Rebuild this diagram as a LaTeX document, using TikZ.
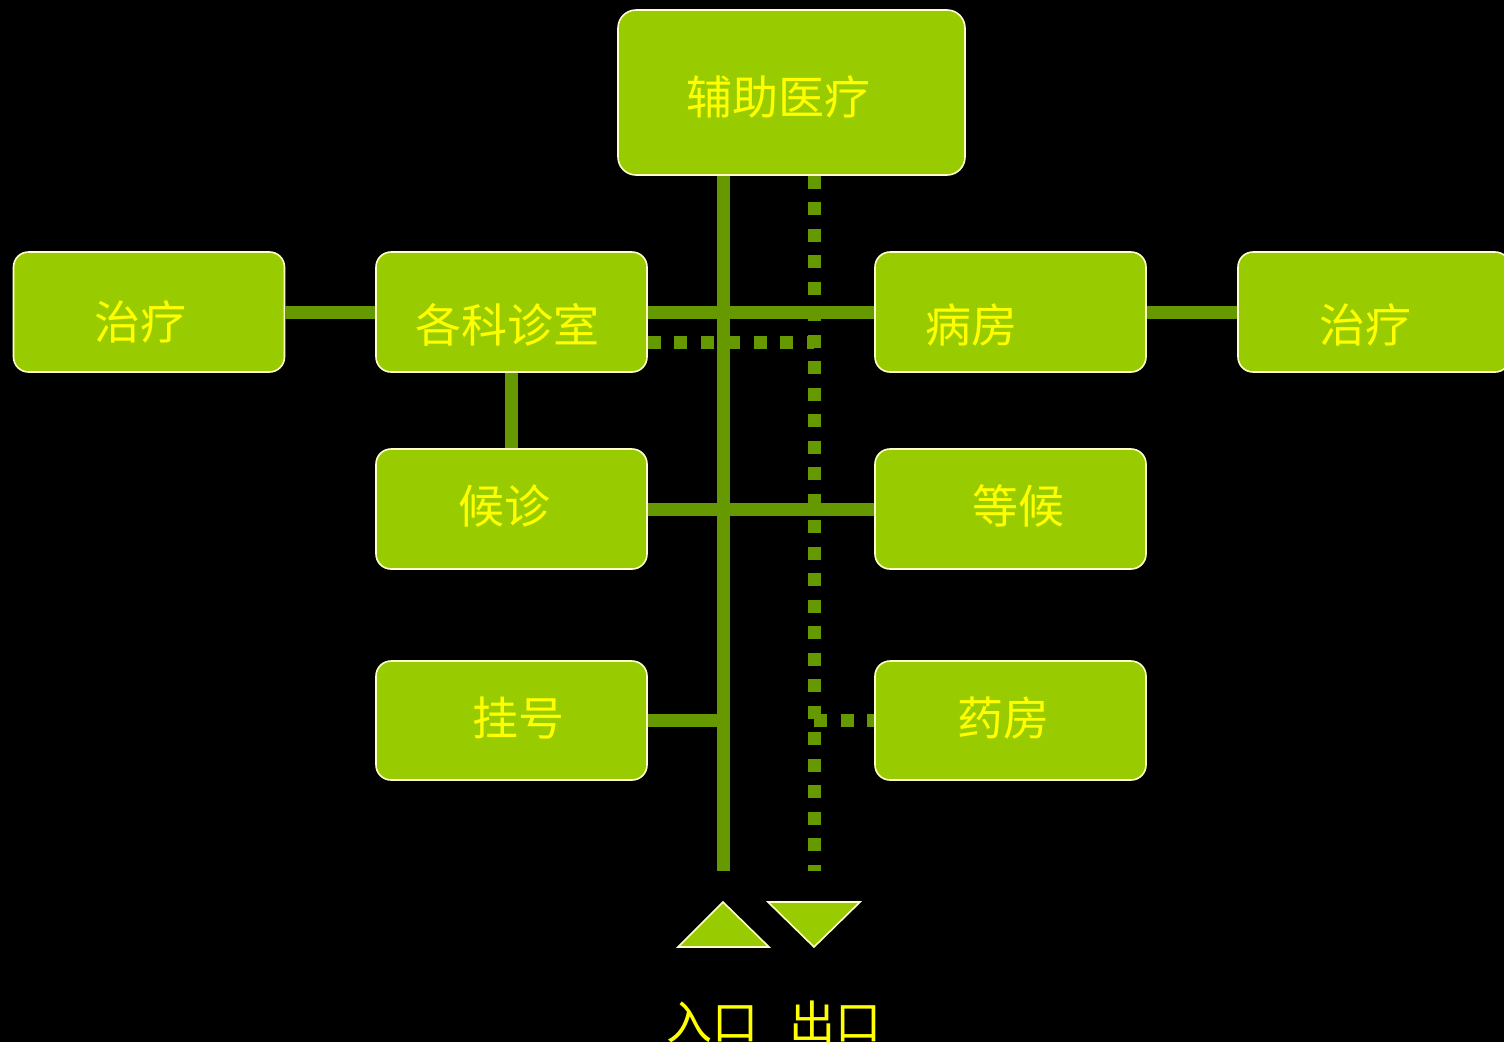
\documentclass[tikz,border=0pt]{standalone}
\usepackage{fontspec}
\newfontfamily\cjk{Noto Sans CJK SC}
\definecolor{boxfill}{HTML}{99CC00}
\definecolor{boxline}{HTML}{FFFFCC}
\definecolor{conn}{HTML}{669900}
\definecolor{txt}{HTML}{FFFF00}
\begin{document}
\begin{tikzpicture}[x=1pt,y=-1pt,
  box/.style={draw=boxline, line width=1.6pt, fill=boxfill, rounded corners=15pt, inner sep=0pt,
    minimum width=271pt, minimum height=120pt},
  lbl/.style={text=txt, font=\cjk\fontsize{46}{50}\selectfont, inner sep=0pt},
  solidconn/.style={draw=conn, line width=13pt},
  dotconn/.style={draw=conn, line width=13pt, dash pattern=on 13pt off 13.5pt},
  tri/.style={draw=boxline, line width=1.6pt, fill=boxfill, line join=miter}]
\fill[black] (0,0) rectangle (1504,1042);
\useasboundingbox (0,0) rectangle (1504,1042);
% boxes
\node[box, minimum width=347pt, minimum height=165pt, rounded corners=18pt] (fz) at (791.5,92.5) {};
\node[box] (zl) at (149,312) {};
\node[box] (gk) at (511.5,312) {};
\node[box] (bf) at (1010.5,312) {};
\node[box, minimum width=272pt] (zr) at (1374,312) {};
\node[box] (hz) at (511.5,509) {};
\node[box] (dh) at (1010.5,509) {};
\node[box, minimum height=119pt] (gh) at (511.5,720.5) {};
\node[box, minimum height=119pt] (yf) at (1010.5,720.5) {};
% labels
\node[lbl] (tfz) at (778,97) {辅助医疗};
\node[lbl] (tzl) at (140,322) {治疗};
\node[lbl] (tgk) at (507,325) {各科诊室};
\node[lbl] (tbf) at (971,325) {病房};
\node[lbl] (tzr) at (1365,325) {治疗};
\node[lbl] (thz) at (504,506) {候诊};
\node[lbl] (tdh) at (1018,506) {等候};
\node[lbl] (tgh) at (518,718) {挂号};
\node[lbl] (tyf) at (1003,718) {药房};
% connectors
\coordinate (sb) at (723,871);
\coordinate (db) at (814,871);
\coordinate (dj) at (814,342);
\draw[solidconn] (fz.south -| sb) -- (sb);
\draw[dotconn] (fz.south -| db) -- (db);
\draw[solidconn] (zl.east) -- (gk.west);
\draw[solidconn] (gk.east) -- (bf.west);
\draw[solidconn] (bf.east) -- (zr.west);
\draw[dotconn] (gk.east |- dj) -- (dj);
\draw[solidconn] (gk.south) -- (hz.north);
\draw[solidconn] (hz.east) -- (dh.west);
\draw[solidconn] (gh.east) -- (gh.east -| sb);
\draw[dotconn] (yf.west -| db) -- (yf.west);
% triangles
\draw[tri] (678,947) -- (769,947) -- (723,902) -- cycle;
\draw[tri] (768,902) -- (860,902) -- (814,947) -- cycle;
% entrance / exit
\node[lbl] (tin) at (712,1022) {入口};
\node[lbl] (tout) at (835,1022) {出口};
\end{tikzpicture}
\end{document}
